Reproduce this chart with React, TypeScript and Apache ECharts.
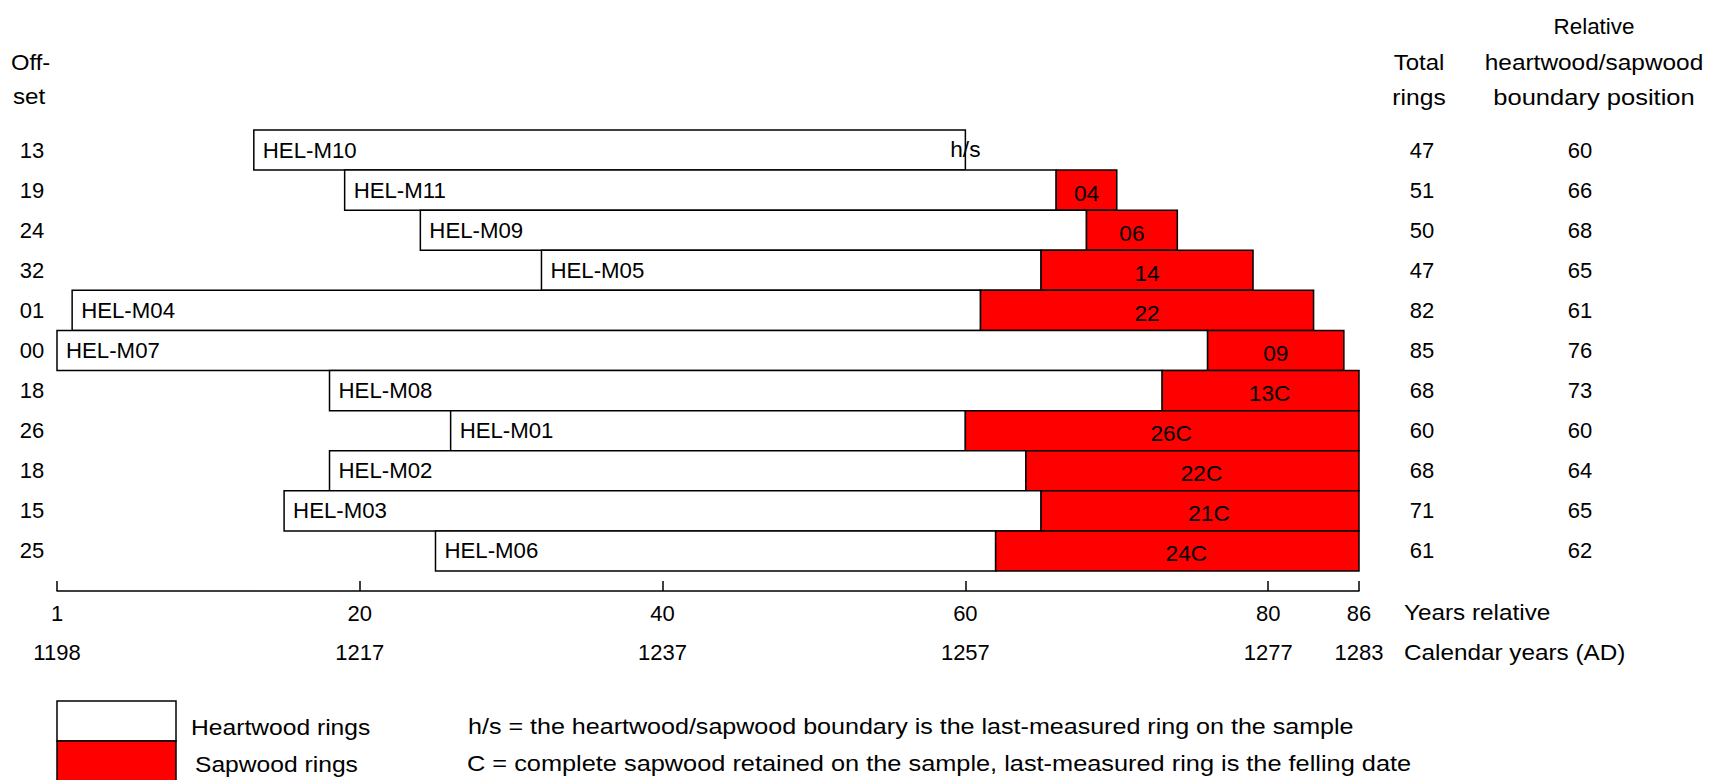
import React, { useEffect, useRef } from "react";
import * as echarts from "echarts";

const samples = ["HEL-M10", "HEL-M11", "HEL-M09", "HEL-M05", "HEL-M04", "HEL-M07", "HEL-M08", "HEL-M01", "HEL-M02", "HEL-M03", "HEL-M06"];
const offsets = [13, 19, 24, 32, 1, 0, 18, 26, 18, 15, 25];
const totalRings = [47, 51, 50, 47, 82, 85, 68, 60, 68, 71, 61];
const boundaryPos = [60, 66, 68, 65, 61, 76, 73, 60, 64, 65, 62];
const sapLabels = ["h/s", "04", "06", "14", "22", "09", "13C", "26C", "22C", "21C", "24C"];
const tickValues = [0, 20, 40, 60, 80, 86];
const relativeLabels = ["1", "20", "40", "60", "80", "86"];
const calendarLabels = ["1198", "1217", "1237", "1257", "1277", "1283"];

const FONT = "'Liberation Sans', Arial, sans-serif";
const FS = 22;
const TXT = "#000";

export default function App() {
  const ref = useRef<HTMLDivElement>(null);
  useEffect(() => {
    document.body.style.margin = "0";
    const chart = echarts.init(ref.current!, null, { renderer: "svg" });
    const offsetLabels = offsets.map((o) => String(o).padStart(2, "0"));
    const data = samples.map((s, i) => [i, offsets[i], boundaryPos[i], offsets[i] + totalRings[i]]);
    const txt = (text: string, x: number, y: number, align = "left", sx = 1) => ({
      type: "text",
      x,
      y,
      scaleX: sx,
      style: { text, fill: TXT, font: `${FS}px ${FONT}`, align, verticalAlign: "middle" },
    });
    const option: any = {
      animation: false,
      backgroundColor: "#fff",
      textStyle: { fontFamily: FONT },
      grid: { left: 57, right: 367, top: 130, height: 441, containLabel: false },
      xAxis: [
        {
          type: "value",
          min: 0,
          max: 86,
          position: "bottom",
          offset: 20,
          splitLine: { show: false },
          axisLine: { show: true, lineStyle: { color: "#000", width: 1.5 } },
          axisTick: { show: true, inside: true, length: 10, customValues: tickValues, lineStyle: { color: "#000", width: 1.5 } },
          axisLabel: {
            customValues: tickValues,
            margin: 11,
            color: TXT,
            fontSize: FS,
            fontFamily: FONT,
            formatter: (v: number) => relativeLabels[tickValues.indexOf(v)] ?? "",
          },
        },
        {
          type: "value",
          min: 0,
          max: 86,
          position: "bottom",
          offset: 20,
          splitLine: { show: false },
          axisLine: { show: false },
          axisTick: { show: false },
          axisLabel: {
            customValues: tickValues,
            margin: 50,
            color: TXT,
            fontSize: FS,
            fontFamily: FONT,
            formatter: (v: number) => calendarLabels[tickValues.indexOf(v)] ?? "",
          },
        },
      ],
      yAxis: [
        {
          type: "category",
          data: offsetLabels,
          inverse: true,
          axisLine: { show: false },
          axisTick: { show: false },
          splitLine: { show: false },
          axisLabel: { margin: 25, align: "center", color: TXT, fontSize: FS, fontFamily: FONT },
        },
        {
          type: "category",
          data: totalRings.map(String),
          inverse: true,
          position: "right",
          axisLine: { show: false },
          axisTick: { show: false },
          splitLine: { show: false },
          axisLabel: { margin: 63, align: "center", color: TXT, fontSize: FS, fontFamily: FONT },
        },
        {
          type: "category",
          data: boundaryPos.map(String),
          inverse: true,
          position: "right",
          axisLine: { show: false },
          axisTick: { show: false },
          splitLine: { show: false },
          axisLabel: { margin: 221, align: "center", color: TXT, fontSize: FS, fontFamily: FONT },
        },
      ],
      series: [
        {
          type: "custom",
          xAxisIndex: 0,
          yAxisIndex: 0,
          clip: false,
          encode: { x: [1, 2, 3], y: 0 },
          data,
          renderItem: (params: any, api: any) => {
            const i = params.dataIndex;
            const row = api.value(0);
            const [x0, yc] = api.coord([api.value(1), row]);
            const [xb] = api.coord([api.value(2), row]);
            const [xe] = api.coord([api.value(3), row]);
            const h = api.size([0, 1])[1];
            const top = yc - h / 2;
            const children: any[] = [
              {
                type: "rect",
                shape: { x: x0, y: top, width: xb - x0, height: h },
                style: { fill: "#fff", stroke: "#000", lineWidth: 1.5 },
              },
            ];
            if (xe > xb) {
              children.push({
                type: "rect",
                shape: { x: xb, y: top, width: xe - xb, height: h },
                style: { fill: "#ff0000", stroke: "#000", lineWidth: 1.5 },
              });
            }
            children.push({
              type: "text",
              x: x0 + 9,
              y: yc,
              scaleX: 1.01,
              style: { text: samples[i], fill: TXT, font: `${FS}px ${FONT}`, align: "left", verticalAlign: "middle" },
            });
            const lab = sapLabels[i];
            const hasC = lab.endsWith("C");
            const lx = lab === "h/s" ? xb : (xb + xe) / 2 + (hasC ? 9 : 0);
            children.push({
              type: "text",
              x: lx,
              y: yc + (lab === "h/s" ? 0 : 3),
              scaleX: 1.03,
              style: { text: lab, fill: TXT, font: `${FS}px ${FONT}`, align: "center", verticalAlign: "middle" },
            });
            return { type: "group", children };
          },
        },
      ],
      graphic: [
        txt("Off-", 11, 62, "left", 1.08),
        txt("set", 13, 96, "left", 1.1),
        txt("Total", 1419, 62, "center", 1.09),
        txt("rings", 1419, 97, "center", 1.12),
        txt("Relative", 1594, 27, "center", 1.02),
        txt("heartwood/sapwood", 1594, 62, "center", 1.11),
        txt("boundary position", 1594, 97, "center", 1.16),
        txt("Years relative", 1404, 612, "left", 1.105),
        txt("Calendar years (AD)", 1404, 652, "left", 1.105),
        {
          type: "rect",
          shape: { x: 57, y: 701, width: 119, height: 40 },
          style: { fill: "#fff", stroke: "#000", lineWidth: 1.5 },
        },
        {
          type: "rect",
          shape: { x: 57, y: 741, width: 119, height: 42 },
          style: { fill: "#ff0000", stroke: "#000", lineWidth: 1.5 },
        },
        txt("Heartwood rings", 191, 727, "left", 1.12),
        txt("Sapwood rings", 195, 764, "left", 1.12),
        txt("h/s = the heartwood/sapwood boundary is the last-measured ring on the sample", 468, 727, "left", 1.14),
        txt("C = complete sapwood retained on the sample, last-measured ring is the felling date", 467, 764, "left", 1.152),
      ],
    };
    chart.setOption(option);
    return () => chart.dispose();
  }, []);
  return <div ref={ref} style={{ width: 1726, height: 780 }} />;
}
